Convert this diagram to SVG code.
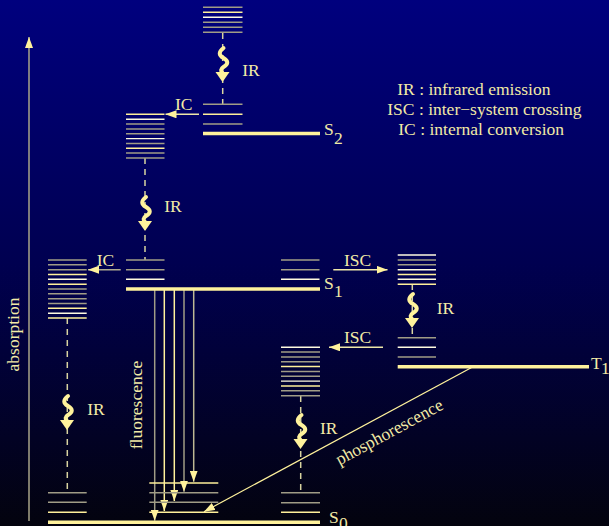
<svg xmlns="http://www.w3.org/2000/svg" width="609" height="526" viewBox="0 0 609 526">
<defs>
<linearGradient id="bg" x1="0" y1="0" x2="0" y2="1">
<stop offset="0" stop-color="#00007e"/>
<stop offset="0.5" stop-color="#000050"/>
<stop offset="1" stop-color="#03030e"/>
</linearGradient>
<marker id="ah" viewBox="0 0 11 8" refX="11" refY="4" markerWidth="11" markerHeight="8" markerUnits="userSpaceOnUse" orient="auto">
<path d="M0,0 L11,4 L0,8 z" fill="#fff29c"/>
</marker>
<g id="wave">
<path d="M1,0 c-5,4 -5,7 0,10 c5,3 5,6 0,9 c-3,2 -3,4 -1,6" fill="none" stroke="#fff29c" stroke-width="4" stroke-linecap="round"/>
<path d="M-7,24 L7,24 L0,34 z" fill="#fff29c"/>
</g>
</defs>
<style>
.g{stroke:#a09c86;stroke-width:1.5}
.y{stroke:#fff09a;stroke-width:1.5}
.w{stroke:#fffbe0;stroke-width:1.4}
.thick{stroke:#fff29c;stroke-width:3.5}
.dash{stroke:#d8d3a0;stroke-width:1.5;stroke-dasharray:6,5;fill:none}
.arr{stroke:#eee7a8;stroke-width:1.5;fill:none;marker-end:url(#ah)}
text{font-family:"Liberation Serif","Times New Roman",serif;font-size:17.5px;fill:#f2eaa6}
</style>
<rect x="0" y="0" width="609" height="526" fill="url(#bg)"/>

<g id="connectors">
<line class="arr" x1="29" y1="521" x2="29" y2="37" style="stroke:#a8a488"/>
<line class="dash" x1="222.7" y1="33" x2="222.7" y2="104"/>
<line class="dash" x1="145" y1="158" x2="145" y2="260"/>
<line class="dash" x1="412.3" y1="284" x2="412.3" y2="338"/>
<line class="dash" x1="67.3" y1="318" x2="67.3" y2="492"/>
<line class="dash" x1="300.7" y1="396" x2="300.7" y2="492"/>
<use href="#wave" x="222.5" y="48"/>
<use href="#wave" x="145" y="197"/>
<use href="#wave" x="412" y="294"/>
<use href="#wave" x="67" y="396"/>
<use href="#wave" x="300.5" y="415"/>
<line class="arr" x1="199" y1="114.3" x2="165.5" y2="114.3"/>
<line class="arr" x1="120.7" y1="269.7" x2="88" y2="269.7" style="stroke:#b0ac90"/>
<line class="arr" x1="333.3" y1="269.7" x2="387.5" y2="269.7"/>
<line class="arr" x1="383" y1="347.3" x2="329" y2="347.3"/>
<line class="arr" x1="154.7" y1="290" x2="154.7" y2="520.7" style="stroke:#a09c86"/>
<line class="arr" x1="164.3" y1="290" x2="164.3" y2="511" style="stroke:#fff29c"/>
<line class="arr" x1="174.3" y1="290" x2="174.3" y2="501" style="stroke:#fff29c"/>
<line class="arr" x1="184" y1="290" x2="184" y2="491.7" style="stroke:#a09c86"/>
<line class="arr" x1="193.7" y1="290" x2="193.7" y2="481.7" style="stroke:#bdb894"/>
<line class="arr" x1="473" y1="366.7" x2="204" y2="511.7" style="stroke:#fff29c;stroke-width:1.2"/>
</g>

<g id="S2-upper">
<line class="g" x1="203" y1="7.3" x2="242.5" y2="7.3"/>
<line class="y" x1="203" y1="12.3" x2="242.5" y2="12.3"/>
<line class="w" x1="203" y1="17.3" x2="242.5" y2="17.3"/>
<line class="g" x1="203" y1="22.3" x2="242.5" y2="22.3"/>
<line class="g" x1="203" y1="27.3" x2="242.5" y2="27.3"/>
<line class="g" x1="203" y1="32.3" x2="242.5" y2="32.3"/>
</g>

<g id="S2">
<line class="g" x1="203" y1="104.3" x2="242.5" y2="104.3"/>
<line class="y" x1="203" y1="114.3" x2="242.5" y2="114.3"/>
<line class="g" x1="203" y1="124" x2="242.5" y2="124"/>
<line class="thick" x1="203" y1="133.5" x2="320" y2="133.5"/>
<text x="324" y="135">S</text>
<text x="334" y="144">2</text>
</g>

<g id="S1-upper">
<line class="y" x1="126" y1="114.3" x2="164.5" y2="114.3"/>
<line class="w" x1="126" y1="119.2" x2="164.5" y2="119.2"/>
<line class="g" x1="126" y1="124" x2="164.5" y2="124"/>
<line class="g" x1="126" y1="128.9" x2="164.5" y2="128.9"/>
<line class="g" x1="126" y1="133.7" x2="164.5" y2="133.7"/>
<line class="w" x1="126" y1="138.6" x2="164.5" y2="138.6"/>
<line class="g" x1="126" y1="143.4" x2="164.5" y2="143.4"/>
<line class="y" x1="126" y1="148.3" x2="164.5" y2="148.3"/>
<line class="g" x1="126" y1="153.1" x2="164.5" y2="153.1"/>
<line class="g" x1="126" y1="158" x2="164.5" y2="158"/>
</g>

<g id="S1">
<line class="g" x1="126" y1="260" x2="164.5" y2="260"/>
<line class="g" x1="126" y1="269.7" x2="164.5" y2="269.7"/>
<line class="w" x1="126" y1="279.3" x2="164.5" y2="279.3"/>
<line class="g" x1="281" y1="260" x2="319.5" y2="260"/>
<line class="g" x1="281" y1="269.7" x2="319.5" y2="269.7"/>
<line class="w" x1="281" y1="279.3" x2="319.5" y2="279.3"/>
<line class="thick" x1="126" y1="289" x2="320" y2="289"/>
<text x="324" y="288.5">S</text>
<text x="334" y="297">1</text>
</g>

<g id="S0-upper">
<line class="g" x1="48" y1="260" x2="86.7" y2="260"/>
<line class="g" x1="48" y1="264.8" x2="86.7" y2="264.8"/>
<line class="g" x1="48" y1="269.7" x2="86.7" y2="269.7"/>
<line class="y" x1="48" y1="274.5" x2="86.7" y2="274.5"/>
<line class="w" x1="48" y1="279.3" x2="86.7" y2="279.3"/>
<line class="y" x1="48" y1="284.2" x2="86.7" y2="284.2"/>
<line class="g" x1="48" y1="289" x2="86.7" y2="289"/>
<line class="g" x1="48" y1="293.8" x2="86.7" y2="293.8"/>
<line class="g" x1="48" y1="298.7" x2="86.7" y2="298.7"/>
<line class="g" x1="48" y1="303.5" x2="86.7" y2="303.5"/>
<line class="y" x1="48" y1="308.3" x2="86.7" y2="308.3"/>
<line class="w" x1="48" y1="313.2" x2="86.7" y2="313.2"/>
<line class="y" x1="48" y1="318" x2="86.7" y2="318"/>
</g>

<g id="T1-upper">
<line class="w" x1="397.7" y1="255" x2="436" y2="255"/>
<line class="g" x1="397.7" y1="260" x2="436" y2="260"/>
<line class="g" x1="397.7" y1="264.7" x2="436" y2="264.7"/>
<line class="w" x1="397.7" y1="269.7" x2="436" y2="269.7"/>
<line class="y" x1="397.7" y1="274.4" x2="436" y2="274.4"/>
<line class="w" x1="397.7" y1="279.3" x2="436" y2="279.3"/>
<line class="y" x1="397.7" y1="284.3" x2="436" y2="284.3"/>
</g>

<g id="T1">
<line class="g" x1="397.7" y1="337.7" x2="436" y2="337.7"/>
<line class="w" x1="397.7" y1="347.3" x2="436" y2="347.3"/>
<line class="g" x1="397.7" y1="357" x2="436" y2="357"/>
<line class="thick" x1="397.7" y1="366.7" x2="589" y2="366.7"/>
<text x="591" y="368.5">T</text>
<text x="601" y="374">1</text>
</g>

<g id="S0-mid">
<line class="w" x1="281" y1="347.3" x2="320" y2="347.3"/>
<line class="g" x1="281" y1="352.1" x2="320" y2="352.1"/>
<line class="g" x1="281" y1="357" x2="320" y2="357"/>
<line class="g" x1="281" y1="361.8" x2="320" y2="361.8"/>
<line class="y" x1="281" y1="366.6" x2="320" y2="366.6"/>
<line class="g" x1="281" y1="371.5" x2="320" y2="371.5"/>
<line class="g" x1="281" y1="376.3" x2="320" y2="376.3"/>
<line class="w" x1="281" y1="381.1" x2="320" y2="381.1"/>
<line class="y" x1="281" y1="386" x2="320" y2="386"/>
<line class="g" x1="281" y1="390.8" x2="320" y2="390.8"/>
<line class="g" x1="281" y1="395.7" x2="320" y2="395.7"/>
</g>

<g id="S0">
<line class="g" x1="48" y1="492.7" x2="86.7" y2="492.7"/>
<line class="g" x1="48" y1="502.3" x2="86.7" y2="502.3"/>
<line class="y" x1="48" y1="512.3" x2="86.7" y2="512.3"/>
<line class="y" x1="149.3" y1="483" x2="218.3" y2="483"/>
<line class="g" x1="149.3" y1="492.7" x2="218.3" y2="492.7"/>
<line class="g" x1="149.3" y1="502.3" x2="218.3" y2="502.3"/>
<line class="y" x1="149.3" y1="512.3" x2="218.3" y2="512.3"/>
<line class="g" x1="281" y1="492.7" x2="320" y2="492.7"/>
<line class="g" x1="281" y1="502.7" x2="320" y2="502.7"/>
<line class="y" x1="281" y1="512.3" x2="320" y2="512.3"/>
<line class="thick" x1="48" y1="522.3" x2="320" y2="522.3"/>
<text x="329" y="522.5">S</text>
<text x="339" y="528.5">0</text>
</g>

<g id="labels">
<text x="242.3" y="76">IR</text>
<text x="164.3" y="211.7">IR</text>
<text x="436.7" y="314">IR</text>
<text x="87.3" y="415">IR</text>
<text x="320" y="434">IR</text>
<text x="175" y="110">IC</text>
<text x="96.7" y="265.7">IC</text>
<text x="344" y="265.7">ISC</text>
<text x="344" y="343.3">ISC</text>
<text transform="translate(18.5,334.5) rotate(-90)" text-anchor="middle">absorption</text>
<text transform="translate(142,405) rotate(-90)" text-anchor="middle">fluorescence</text>
<text transform="translate(392,437) rotate(-28.5)" text-anchor="middle">phosphorescence</text>
</g>

<g id="legend">
<text x="397.3" y="95">IR : infrared emission</text>
<text x="387.3" y="115">ISC : inter−system crossing</text>
<text x="398.3" y="135">IC : internal conversion</text>
</g>
</svg>
